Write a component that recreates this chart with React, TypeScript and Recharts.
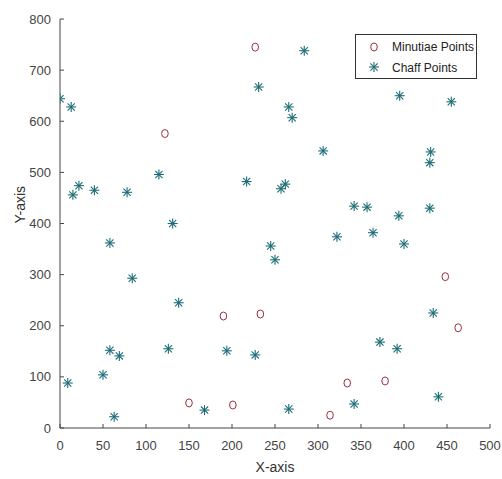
import { ScatterChart, Scatter, XAxis, YAxis } from "recharts";

// minutiae points (red circles)
const minutiaeX = [122, 227, 190, 233, 150, 201, 314, 334, 378, 448, 463];
const minutiaeY = [576, 745, 219, 223, 49, 45, 25, 88, 92, 296, 196];

// chaff points (teal asterisks)
const chaffX = [
    0, 9, 13, 15, 22, 40, 58, 58, 50, 63, 69, 78, 84, 115, 126, 131, 138, 168, 194, 217,
    227, 231, 245, 250, 257, 262, 266, 266, 270, 284, 306, 322, 342, 342, 357, 364, 372, 392,
    394, 395, 400, 430, 431, 430, 434, 440, 455,
];
const chaffY = [
    644, 88, 628, 456, 474, 465, 362, 152, 104, 22, 141, 461, 293, 496, 155, 400, 245, 35, 151, 482,
    143, 667, 356, 329, 468, 477, 628, 37, 607, 738, 542, 374, 47, 434, 432, 382, 168, 155,
    415, 650, 360, 519, 540, 430, 225, 61, 638,
];

const xTicks = [0, 50, 100, 150, 200, 250, 300, 350, 400, 450, 500];
const yTicks = [0, 100, 200, 300, 400, 500, 600, 700, 800];

const minutiae = minutiaeX.map((x, i) => ({ x, y: minutiaeY[i] }));
const chaff = chaffX.map((x, i) => ({ x, y: chaffY[i] }));

const RED = "#9a2f3e";
const TEAL = "#1d6d77";
const AXIS = "#444";
const FONT = "'Liberation Sans', Arial, sans-serif";

function Circle(props: any) {
    const { cx, cy } = props;
    return <ellipse cx={cx} cy={cy} rx={3.3} ry={4} fill="none" stroke={RED} strokeWidth={1} />;
}

function Star(props: any) {
    const { cx, cy } = props;
    const r = 5;
    const d = 3.6;
    return (
        <g stroke={TEAL} strokeWidth={1.1}>
            <line x1={cx} y1={cy - r} x2={cx} y2={cy + r} />
            <line x1={cx - r} y1={cy} x2={cx + r} y2={cy} />
            <line x1={cx - d} y1={cy - d} x2={cx + d} y2={cy + d} />
            <line x1={cx - d} y1={cy + d} x2={cx + d} y2={cy - d} />
        </g>
    );
}

function LegendBox() {
    return (
        <div
            style={{
                position: "absolute",
                left: 355,
                top: 34,
                width: 122,
                height: 45,
                border: "1px solid #333",
                background: "#fff",
                boxSizing: "border-box",
            }}
        >
            <svg width={120} height={43} style={{ display: "block" }}>
                <Circle cx={18} cy={12} />
                <text x={36} y={16} fontSize={12} fill="#222" fontFamily={FONT}>Minutiae Points</text>
                <Star cx={18} cy={32} />
                <text x={36} y={37} fontSize={12} fill="#222" fontFamily={FONT}>Chaff Points</text>
            </svg>
        </div>
    );
}

export default function App() {
    return (
        <div style={{ position: "absolute", left: 0, top: 0, width: 502, height: 479, background: "#fff" }}>
            <ScatterChart width={502} height={479} margin={{ top: 19, right: 12, bottom: 7, left: 0 }}>
                <XAxis
                    type="number"
                    dataKey="x"
                    domain={[0, 500]}
                    ticks={xTicks}
                    allowDataOverflow
                    stroke={AXIS}
                    tickSize={-4}
                    tickMargin={17}
                    height={44}
                    tick={{ fill: "#444", fontSize: 13, fontFamily: FONT }}
                    label={{ value: "X-axis", position: "insideBottom", offset: 0, fill: "#333", fontSize: 14, fontFamily: FONT }}
                />
                <YAxis
                    type="number"
                    dataKey="y"
                    domain={[0, 800]}
                    ticks={yTicks}
                    allowDataOverflow
                    stroke={AXIS}
                    tickSize={-4}
                    tickMargin={13}
                    width={60}
                    tick={{ fill: "#444", fontSize: 13, fontFamily: FONT }}
                    label={{ value: "Y-axis", angle: -90, position: "insideLeft", offset: 20, fill: "#333", fontSize: 14, fontFamily: FONT }}
                />
                <Scatter name="Minutiae Points" data={minutiae} shape={Circle} isAnimationActive={false} />
                <Scatter name="Chaff Points" data={chaff} shape={Star} isAnimationActive={false} />
            </ScatterChart>
            <LegendBox />
        </div>
    );
}
